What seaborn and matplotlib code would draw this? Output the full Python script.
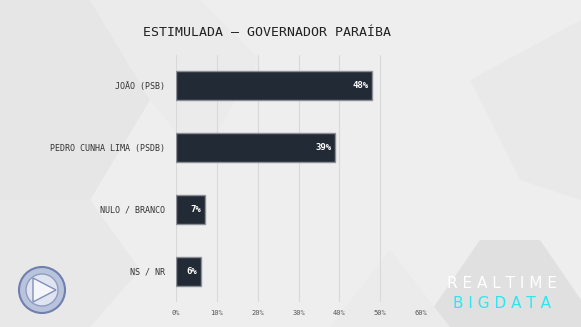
import matplotlib
matplotlib.use("Agg")
import matplotlib.pyplot as plt
import seaborn as sns
import pandas as pd
from matplotlib.patches import Polygon, Circle

categories = ["JOÃO (PSB)", "PEDRO CUNHA LIMA (PSDB)", "NULO / BRANCO", "NS / NR"]
values = [48, 39, 7, 6]
value_labels = ["48%", "39%", "7%", "6%"]
tick_values = [0, 10, 20, 30, 40, 50, 60]
tick_labels = ["0%", "10%", "20%", "30%", "40%", "50%", "60%"]
title = "ESTIMULADA — GOVERNADOR PARAÍBA"

df = pd.DataFrame({"cat": categories, "val": values})

sns.set_theme(style="white")
plt.rcParams["font.family"] = ["DejaVu Sans Mono", "DejaVu Sans"]

W, H = 581, 327
fig = plt.figure(figsize=(W / 100, H / 100), dpi=100)
fig.patch.set_facecolor("#eeeeee")

# subtle background geometry
bg = fig.add_axes([0, 0, 1, 1], zorder=-5)
bg.set_xlim(0, W); bg.set_ylim(H, 0); bg.axis("off")
shapes = [
    ([(0, 0), (90, 0), (150, 100), (90, 200), (0, 200)], "#e6e6e6"),
    ([(90, 0), (200, 0), (260, 60), (200, 160), (150, 100)], "#ebebeb"),
    ([(0, 200), (90, 200), (140, 270), (90, 327), (0, 327)], "#e8e8e8"),
    ([(470, 80), (581, 20), (581, 200), (520, 180)], "#e9e9e9"),
    ([(420, 327), (480, 240), (540, 240), (581, 300), (581, 327)], "#e0e0e0"),
    ([(330, 327), (390, 250), (450, 327)], "#ebebeb"),
]
for pts, c in shapes:
    bg.add_patch(Polygon(pts, closed=True, facecolor=c, edgecolor="none"))

# logo
bg.add_patch(Circle((42, 290), 23, facecolor="#b9c3dc", edgecolor="#6f7fae", lw=1.5))
bg.add_patch(Circle((42, 290), 16, facecolor="#dfe4f0", edgecolor="#8e9cc2", lw=1))
bg.add_patch(Polygon([(33, 278), (56, 290), (33, 302)], closed=True,
                     facecolor="#f4f6fb", edgecolor="#8090bb", lw=1))

# branding
bg.text(502, 284, "R E A L T I M E", color="white", fontsize=11,
        ha="center", va="center", family=["DejaVu Sans"])
bg.text(502, 303, "B I G D A T A", color="#2ee6ee", fontsize=11,
        ha="center", va="center", family=["DejaVu Sans"])

# title
fig.text(267 / W, 1 - 32 / H, title, ha="center", va="center",
         fontsize=9.5, color="#222222", family=["DejaVu Sans Mono"])

ax = fig.add_axes([176 / W, 1 - 302 / H, (421 - 176) / W, (302 - 55) / H])
ax.patch.set_alpha(0)
sns.barplot(data=df, x="val", y="cat", orient="h", ax=ax, color="#222a35",
            width=0.47, edgecolor="#8a8e94", linewidth=1, saturation=1)
ax.set_xlim(0, 60)
ax.set_ylim(3.5, -0.5)
ax.set_xticks(tick_values)
ax.set_xticklabels(tick_labels, fontsize=5, color="#555555")
ax.tick_params(axis="x", length=0, pad=6)
ax.tick_params(axis="y", length=0, pad=8)
ax.set_yticklabels(categories, fontsize=6, color="#333333")
ax.set_xlabel(""); ax.set_ylabel("")
ax.grid(axis="x", color="#d9d9d9", lw=0.8)
ax.set_axisbelow(True)
for s in ax.spines.values():
    s.set_visible(False)

for i, (v, lab) in enumerate(zip(values, value_labels)):
    ax.text(v - 0.8, i, lab, ha="right", va="center", color="white",
            fontsize=6.5, fontweight="bold")

fig.savefig("out.png", dpi=100, facecolor=fig.get_facecolor())
